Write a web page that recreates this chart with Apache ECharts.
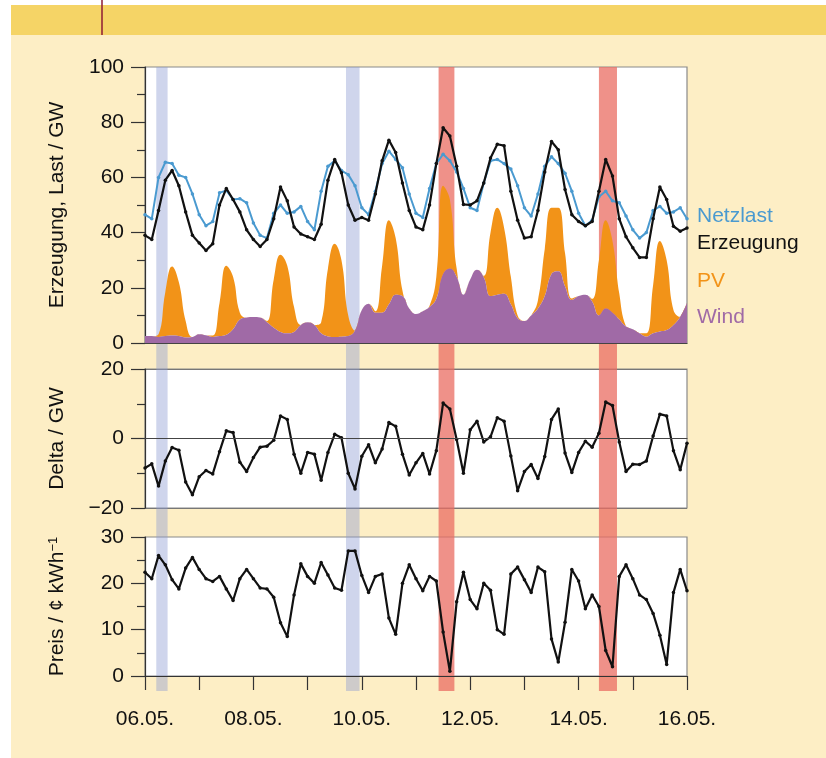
<!DOCTYPE html>
<html>
<head>
<meta charset="utf-8">
<script src="https://cdn.jsdelivr.net/npm/echarts@6.0.0/dist/echarts.min.js"></script>
<style>
  html, body { margin: 0; padding: 0; background: #fff; }
  #chart { width: 826px; height: 758px; }
</style>
</head>
<body>
<div id="chart"></div>
<script>
// Werte alle 3 Stunden, 06.05. 00:00 bis 16.05. 00:00
const stepHours = 3;
const dayLabels = ['06.05.', '07.05.', '08.05.', '09.05.', '10.05.', '11.05.',
                   '12.05.', '13.05.', '14.05.', '15.05.', '16.05.'];

// GW
const netzlast = [
  46.5, 45, 60, 65.5, 65, 60.8, 60, 54,
  46.5, 42.5, 44, 54.4, 55.3, 52, 52.3, 50.8,
  43.5, 39, 38, 47, 50, 47, 47.5, 49.5,
  44, 41, 55, 64, 66, 62.5, 61, 57,
  49, 46.5, 55, 65, 69.5, 66.5, 63.5, 54,
  47, 45.5, 56, 65, 68.4, 66, 62, 56,
  49, 48, 58, 66, 66.5, 65, 63, 57,
  49, 46, 54, 64, 67.5, 65, 61.5, 55,
  47, 42.5, 44.5, 53, 55, 51.5, 50.8, 46,
  41, 38, 40, 48, 49.5, 47, 47.5, 49,
  45
];
const erzeugung = [
  39, 37.5, 48, 59, 62.5, 57, 47.5, 39,
  36.2, 33.5, 36, 50, 56, 52, 47.5, 41,
  37.5, 35, 37.5, 45, 56.5, 51.5, 42, 39.5,
  38.5, 37.5, 43, 59, 66.5, 61.7, 50, 44.5,
  45.5, 44.5, 54, 66, 73.5, 69, 58, 48,
  42, 41, 50, 65, 78, 75, 64, 50.2,
  50, 51.5, 58, 67, 72, 71.5, 55, 44.5,
  38, 38.5, 48, 62, 73, 70, 55.6, 46.5,
  44, 42.5, 44, 55, 66.5, 60.5, 45, 38.5,
  34.5, 31, 31, 45, 56.5, 52, 42.3, 40.5,
  41.7
];
const wind = [
  2.5, 2.5, 2.2, 2.5, 2.7, 2.5, 2.0, 2.2,
  3.2, 2.8, 2.2, 2.5, 3.0, 5, 8.5, 9.2,
  9.4, 9.2, 7.5, 5.5, 4, 3.5, 4, 6.5,
  7.5, 6.5, 3.5, 2.4, 2.2, 2.3, 2.5, 4.5,
  12, 14.2, 11, 11, 14, 17.5, 17, 12.5,
  10.5, 11.5, 13, 16, 25, 27, 24, 17.5,
  23, 26.5, 23.8, 17, 17.5, 17.8, 14, 9,
  8, 10, 12.5, 17, 25, 26, 20.5, 15.6,
  17, 17.5, 15, 10, 12.5, 11, 8.5, 6,
  5, 3.5, 2.3, 3.5, 4.2, 4.7, 6.5, 9.5,
  14.5
];
const pv = [
  0, 0, 1, 16, 25, 19.5, 6, 0,
  0, 0, 0.5, 12, 25, 19, 2.5, 0,
  0, 0, 0.5, 17.5, 28, 24.5, 9, 0,
  0, 0, 4, 24.5, 33.8, 27.7, 7.5, 0,
  0, 0, 0.5, 17, 30.5, 20.5, 2, 0,
  0, 0, 0.5, 8, 32, 25, 3, 0,
  0, 0, 0.5, 23, 31.5, 24, 10, 1,
  0, 0, 3, 17, 24, 23, 12, 0.5,
  0, 0, 1, 20, 32, 26, 9.5, 0,
  0, 0, 1.2, 17.5, 32.8, 25.3, 5.5, 0,
  0
];
const delta = [
  -8.5, -7.3, -13.7, -6.5, -2.6, -3.4, -12.5, -16.2,
  -11, -9.2, -10.2, -3.8, 2.2, 1.7, -6.8, -9.5,
  -5.5, -2.5, -2.2, -0.5, 6.5, 5.5, -4.5, -10,
  -4, -4.5, -12, -4, 1.2, 0.2, -10, -14.5,
  -5.1, -1.8, -7, -3, 4.6, 3.5, -4.5, -10.5,
  -7, -4.3, -10.2, -3.5, 10.2, 8.5, -0.3, -10,
  2.5, 5, -1, 0.5, 6, 5, -5, -15,
  -9.5, -7.5, -11.5, -5.2, 5.5, 8.5, -4.2, -9.8,
  -4, -0.8, -2.5, 1.5, 10.5, 9.5, -1, -9.5,
  -7.4, -7.5, -6.5, 0.7, 7, 6.5, -3.5, -9,
  -1.4
];
// ct/kWh
const preis = [
  22.4, 21, 26, 24, 20.8, 18.8, 23.3, 25.6,
  23, 21, 20.4, 21.5, 18.8, 16.3, 21, 23,
  21, 19, 18.8, 17, 11.5, 8.5, 17.5, 24.2,
  21.5, 20, 24.5, 21.8, 19, 18.5, 27, 27,
  21.7, 18, 21.5, 22, 12.5, 9, 20, 24,
  21, 18.4, 21.5, 20.5, 9.5, 1, 16, 22.4,
  16.5, 14.5, 20, 18.5, 10, 9, 22, 23.5,
  20.8, 18, 23.5, 22.5, 8, 3, 11.6, 23,
  20.5, 14.5, 17.5, 15, 5.5, 2, 21.5, 24,
  21, 17.5, 16.5, 13.5, 8.8, 2.5, 18, 23,
  18.4
];

// markierte Zeiträume in Stunden ab 06.05. 00:00
const blueBands = [[5, 10], [89, 95]];
const redBands = [[130, 137], [201, 209]];

const font = '"Liberation Sans", Arial, Helvetica, sans-serif';
const textColor = '#111';
const perDay = 24 / stepHours;

// Zeitpunkte als Kategorien
const times = netzlast.map((_, i) => {
  const h = i * stepHours;
  return dayLabels[Math.floor(h / 24)] + ' ' + String(h % 24).padStart(2, '0') + ':00';
});

function yAxisFor(idx, min, max, interval, name, fmt) {
  return {
    gridIndex: idx, type: 'value', min: min, max: max, interval: interval,
    name: name, nameLocation: 'middle', nameGap: 77,
    nameTextStyle: { fontSize: 21, color: textColor, fontFamily: font },
    axisLine: { show: true, lineStyle: { color: '#333', width: 1.2 } },
    axisTick: { show: true, length: 14, lineStyle: { color: '#333', width: 1.2 } },
    minorTick: { show: true, splitNumber: 2, length: 8, lineStyle: { color: '#333', width: 1.2 } },
    axisLabel: { fontSize: 21, color: textColor, fontFamily: font, margin: 21, formatter: fmt },
    splitLine: { show: false }
  };
}

function hiddenTimeAxis(idx) {
  return {
    gridIndex: idx, type: 'category', data: times, boundaryGap: false, z: 5,
    axisLine: { show: true, lineStyle: { color: '#444', width: 1.2 } },
    axisTick: { show: false }, axisLabel: { show: false }, splitLine: { show: false }
  };
}

const bandData = blueBands.map(b => [
  { xAxis: b[0], yAxis: 0, itemStyle: { color: 'rgba(140,155,210,0.42)' } },
  { xAxis: b[1], yAxis: 1 }
]).concat(redBands.map(b => [
  { xAxis: b[0], yAxis: 0, itemStyle: { color: 'rgba(234,108,98,0.75)' } },
  { xAxis: b[1], yAxis: 1 }
]));

const chart = echarts.init(document.getElementById('chart'));

const gridBase = { left: 145, right: 139, show: true, backgroundColor: '#fff',
                   borderColor: '#8a8a8a', borderWidth: 1.2 };

chart.setOption({
  backgroundColor: '#fdeec5',
  animation: false,
  textStyle: { fontFamily: font },
  graphic: [
    { type: 'rect', shape: { x: 0, y: 0, width: 826, height: 5 }, style: { fill: '#fff' } },
    { type: 'rect', shape: { x: 0, y: 0, width: 11, height: 758 }, style: { fill: '#fff' } },
    { type: 'rect', shape: { x: 11, y: 5, width: 815, height: 30 }, style: { fill: '#f5d466' } },
    { type: 'line', shape: { x1: 102, y1: 0, x2: 102, y2: 35 }, style: { stroke: '#8e1b34', lineWidth: 1.5 } },
    { type: 'text', x: 697, y: 216, style: { text: 'Netzlast', fill: '#4a9ad0', font: '21px ' + font, verticalAlign: 'middle' } },
    { type: 'text', x: 697, y: 243, style: { text: 'Erzeugung', fill: '#111', font: '21px ' + font, verticalAlign: 'middle' } },
    { type: 'text', x: 697, y: 281, style: { text: 'PV', fill: '#f29318', font: '21px ' + font, verticalAlign: 'middle' } },
    { type: 'text', x: 697, y: 317, style: { text: 'Wind', fill: '#a06aa6', font: '21px ' + font, verticalAlign: 'middle' } }
  ],
  grid: [
    Object.assign({ top: 67, height: 276 }, gridBase),
    Object.assign({ top: 369, height: 139 }, gridBase),
    Object.assign({ top: 537, height: 139 }, gridBase),
    { left: 145, right: 139, top: 67, height: 624, show: false }
  ],
  xAxis: [
    hiddenTimeAxis(0),
    hiddenTimeAxis(1),
    { gridIndex: 2, type: 'category', data: times, boundaryGap: false, z: 5,
      axisLine: { show: true, lineStyle: { color: '#333', width: 1.2 } },
      axisTick: { show: true, interval: perDay - 1, length: 14, lineStyle: { color: '#333', width: 1.2 } },
      axisLabel: { interval: 0, fontSize: 21, color: textColor, fontFamily: font, margin: 33,
                   formatter: (v, i) => (i % (2 * perDay) === 0 ? dayLabels[i / perDay] : '') },
      splitLine: { show: false } },
    { gridIndex: 3, type: 'value', min: 0, max: 240, show: false }
  ],
  yAxis: [
    yAxisFor(0, 0, 100, 20, 'Erzeugung, Last / GW'),
    Object.assign(yAxisFor(1, -20, 20, 20, 'Delta / GW',
      v => (v < 0 ? '\u2212' + (-v) : String(v))),
      { splitLine: { show: true, lineStyle: { color: '#777', width: 1.2 } } }),
    Object.assign(yAxisFor(2, 0, 30, 10, '{a|Preis / ¢ kWh}{b|\u22121}'), {
      nameTextStyle: { fontSize: 21, color: textColor, fontFamily: font,
        rich: { a: { fontSize: 21, color: textColor, fontFamily: font },
                b: { fontSize: 13, color: textColor, fontFamily: font, verticalAlign: 'top' } } }
    }),
    { gridIndex: 3, type: 'value', min: 0, max: 1, show: false }
  ],
  series: [
    { type: 'line', xAxisIndex: 3, yAxisIndex: 3, data: [[0, 0]], symbol: 'none',
      lineStyle: { opacity: 0 }, silent: true, z: 1,
      markArea: { silent: true, data: bandData } },
    { name: 'Wind', type: 'line', xAxisIndex: 0, yAxisIndex: 0, stack: 'ee',
      data: wind, symbol: 'none', smooth: 0.45,
      lineStyle: { width: 0 }, areaStyle: { color: '#a06aa6', opacity: 1 }, z: 3 },
    { name: 'PV', type: 'line', xAxisIndex: 0, yAxisIndex: 0, stack: 'ee',
      data: pv, symbol: 'none', smooth: 0.45,
      lineStyle: { width: 0 }, areaStyle: { color: '#f29318', opacity: 1 }, z: 2 },
    { name: 'Netzlast', type: 'line', xAxisIndex: 0, yAxisIndex: 0,
      data: netzlast, symbol: 'circle', symbolSize: 3.5,
      lineStyle: { width: 2, color: '#4a9ad0' }, itemStyle: { color: '#4a9ad0' }, z: 4 },
    { name: 'Erzeugung', type: 'line', xAxisIndex: 0, yAxisIndex: 0,
      data: erzeugung, symbol: 'circle', symbolSize: 3.5,
      lineStyle: { width: 2.2, color: '#111' }, itemStyle: { color: '#111' }, z: 5 },
    { name: 'Delta', type: 'line', xAxisIndex: 1, yAxisIndex: 1,
      data: delta, symbol: 'circle', symbolSize: 3.5,
      lineStyle: { width: 2.2, color: '#111' }, itemStyle: { color: '#111' }, z: 4 },
    { name: 'Preis', type: 'line', xAxisIndex: 2, yAxisIndex: 2,
      data: preis, symbol: 'circle', symbolSize: 3.5,
      lineStyle: { width: 2.2, color: '#111' }, itemStyle: { color: '#111' }, z: 4 }
  ]
});
</script>
</body>
</html>
